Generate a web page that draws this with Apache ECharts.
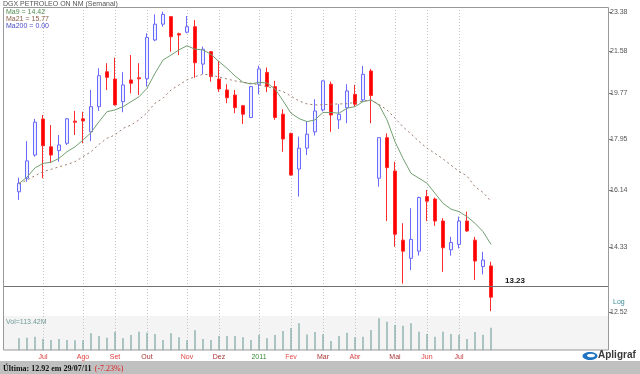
<!DOCTYPE html>
<html><head><meta charset="utf-8">
<script src="https://cdn.jsdelivr.net/npm/echarts@6/dist/echarts.min.js"></script>
<style>html,body{margin:0;padding:0;background:#fff}#c{width:640px;height:374px}</style>
</head><body><div id="c"></div><script>
// ---- data ----
const title = 'DGX PETROLEO ON NM (Semanal)';
const dates = ['11/06/10','18/06/10','25/06/10','02/07/10','09/07/10','16/07/10','23/07/10','30/07/10',
 '06/08/10','13/08/10','20/08/10','27/08/10','03/09/10','10/09/10','17/09/10','24/09/10',
 '01/10/10','08/10/10','15/10/10','22/10/10','29/10/10','05/11/10','12/11/10','19/11/10','26/11/10',
 '03/12/10','10/12/10','17/12/10','24/12/10','31/12/10','07/01/11','14/01/11','21/01/11','28/01/11',
 '04/02/11','11/02/11','18/02/11','25/02/11','04/03/11','11/03/11','18/03/11','25/03/11',
 '01/04/11','08/04/11','15/04/11','22/04/11','29/04/11','06/05/11','13/05/11','20/05/11','27/05/11',
 '03/06/11','10/06/11','17/06/11','24/06/11','01/07/11','08/07/11','15/07/11','22/07/11','29/07/11'];
const open  = [16.09,16.55,17.37,18.72,17.67,17.53,17.80,18.64,18.73,18.23,19.21,20.66,20.35,19.41,20.31,20.40,20.36,22.07,22.81,23.17,
               22.36,22.43,22.69,20.99,21.54,20.35,19.89,19.68,19.25,18.78,20.13,20.63,20.03,18.91,18.17,16.87,17.62,18.23,19.08,20.13,
               18.69,19.17,19.71,19.48,20.69,16.55,18.01,16.80,14.55,14.01,14.22,15.93,15.85,15.14,14.26,14.42,15.14,14.55,13.77,13.79];
const high  = [16.57,17.88,18.73,18.88,18.49,18.11,18.76,19.04,19.01,19.89,20.81,21.03,21.27,20.64,21.39,21.03,22.38,23.28,23.41,23.20,
               22.41,23.20,23.01,21.77,21.57,21.13,20.13,19.89,19.28,20.06,20.92,20.84,20.27,19.11,18.20,18.05,18.62,19.51,20.29,20.24,
               19.31,20.13,20.10,20.91,20.78,18.01,18.17,17.13,15.07,15.55,15.93,16.15,15.90,15.23,14.65,15.28,15.44,14.65,14.20,13.91];
const low   = [15.82,16.43,17.31,16.55,17.08,17.13,17.74,18.11,17.80,17.88,19.04,19.89,19.26,18.99,19.75,19.68,20.03,22.02,22.69,21.54,
               21.39,22.38,20.40,20.56,20.24,19.81,19.35,18.95,18.53,18.76,19.71,19.80,18.69,17.49,16.64,15.93,17.37,18.09,19.02,18.23,
               18.34,18.56,19.21,19.41,18.56,16.26,15.14,14.35,13.29,13.67,14.09,15.14,14.99,13.62,14.09,14.30,14.80,13.39,13.55,12.55];
const close = [16.38,17.16,18.60,17.71,17.37,17.74,18.73,18.60,18.65,19.21,20.49,20.42,19.28,20.10,20.17,20.36,22.19,22.81,23.28,22.22,
               22.30,22.69,21.05,21.65,20.45,19.93,19.57,19.17,18.91,20.03,20.78,20.03,18.78,17.96,16.66,17.62,18.14,19.04,20.27,18.88,
               18.91,19.85,19.31,20.55,19.66,18.01,16.92,14.73,14.22,14.57,15.90,15.78,15.14,14.32,14.48,15.14,14.83,13.93,13.96,12.92];
const ma9   = [16.37,16.59,16.91,17.07,17.11,17.25,17.49,17.67,17.92,18.20,18.62,19.01,19.08,19.21,19.41,19.61,19.96,20.59,21.17,21.39,
               21.62,21.81,21.65,21.62,21.42,21.10,20.81,20.48,20.21,20.14,20.21,20.18,19.93,19.45,18.95,18.74,18.62,18.69,18.98,18.98,
               18.95,19.15,19.21,19.41,19.48,19.28,18.69,17.86,17.25,16.72,16.55,16.38,16.04,15.71,15.52,15.44,15.28,15.07,14.81,14.42];
const ma21  = [16.35,16.49,16.64,16.78,16.86,16.95,17.03,17.13,17.31,17.49,17.76,17.99,18.11,18.36,18.49,18.69,18.97,19.35,19.55,19.89,
               20.10,20.31,20.45,20.55,20.52,20.43,20.35,20.27,20.21,20.17,20.10,20.03,19.93,19.82,19.64,19.44,19.32,19.28,19.29,19.31,
               19.32,19.33,19.38,19.44,19.48,19.30,19.08,18.76,18.42,18.15,17.87,17.62,17.43,17.23,17.01,16.79,16.63,16.26,16.07,15.77];
const ma200Last = 0.00;
const volume = [59.6,62.6,67.7,56.0,50.9,56.0,50.9,49.4,49.4,85.0,71.3,62.6,93.1,59.6,76.4,93.1,88.1,81.4,50.9,85.0,
                64.6,49.4,100.3,56.0,50.9,71.3,71.3,71.3,64.6,50.9,77.9,59.6,76.4,96.7,110.5,135.9,78.9,91.6,79.9,45.8,
                71.3,88.1,64.6,67.7,101.8,161.4,144.0,127.3,123.7,135.9,93.1,81.4,67.7,93.1,81.4,77.9,56.0,91.6,77.9,113.42];
const priceTicks = [23.38,21.58,19.77,17.95,16.14,14.33,12.52];
const monthTickDates = ['02/07/10','06/08/10','03/09/10','01/10/10','05/11/10','03/12/10','07/01/11','04/02/11','04/03/11','01/04/11','06/05/11','03/06/11','01/07/11'];
const monthTicks = ['Jul','Ago','Set','Out','Nov','Dez','2011','Fev','Mar','Abr','Mai','Jun','Jul'];
const refLevel = 13.23;
const lastDate = '29/07/11';
const lastChangePct = -7.23;

// ---- styles ----
const monthColors = ['#e03a3a','#e04545','#e03a3a','#a83232','#e04545','#a83232','#3b8a3b','#e05050','#a83232','#d84040','#a83232','#e04040','#c03434'];
const FF = '"Liberation Sans", Arial, sans-serif';
const LEAD = 2, TRAIL = 14;

const cats = [];
for (let i = 0; i < LEAD; i++) cats.push('lead' + i);
dates.forEach(d => cats.push(d));
for (let i = 0; i < TRAIL; i++) cats.push('trail' + i);
const lead = v => Array(LEAD).fill(v);
const candleData = lead(['-','-','-','-']).concat(dates.map((d, i) => [open[i], close[i], low[i], high[i]]));
const ma9Data = lead('-').concat(ma9);
const ma21Data = lead('-').concat(ma21);
const volData = lead('-').concat(volume);
const isMonth = v => monthTickDates.indexOf(v) >= 0;
const last = arr => arr[arr.length - 1];

const chart = echarts.init(document.getElementById('c'), null, {renderer: 'canvas'});
const splitLine = {show: true, interval: (i, v) => isMonth(v), lineStyle: {color: '#c4c4c4', type: [1, 2], width: 1}};
chart.setOption({
  animation: false,
  backgroundColor: '#fff',
  grid: [
    {left: 3, top: 7, width: 600, height: 309, show: false},
    {left: 3, top: 316, width: 600, height: 34, show: false}
  ],
  xAxis: [
    {type: 'category', gridIndex: 0, data: cats, boundaryGap: false,
     axisLine: {show: false}, axisTick: {show: false}, axisLabel: {show: false}, splitLine: splitLine},
    {type: 'category', gridIndex: 1, data: cats, boundaryGap: false,
     axisLine: {show: false}, axisTick: {show: false}, splitLine: splitLine,
     axisLabel: {show: true, interval: (i, v) => isMonth(v), margin: 4,
       formatter: v => isMonth(v) ? monthTicks[monthTickDates.indexOf(v)] : '',
       color: (v) => monthColors[Math.max(0, monthTickDates.indexOf(v))],
       fontSize: 7, fontFamily: FF}}
  ],
  yAxis: [
    {type: 'log', logBase: 10, gridIndex: 0, min: 12.424, max: 23.64, position: 'right', offset: 6,
     axisLine: {show: false},
     axisTick: {show: true, length: 3, customValues: priceTicks, lineStyle: {color: '#777'}},
     axisLabel: {show: true, customValues: priceTicks, formatter: v => Number(v).toFixed(2),
       fontSize: 7, color: '#555', margin: 1, fontFamily: FF},
     splitLine: {show: false}},
    {type: 'value', gridIndex: 1, min: 0, max: 173, show: false}
  ],
  series: [
    {type: 'candlestick', xAxisIndex: 0, yAxisIndex: 0, data: candleData, barWidth: 4,
     itemStyle: {color: '#eef0ff', color0: '#ff0000', borderColor: '#6a6aff', borderColor0: '#ff2a2a', borderWidth: 1},
     markLine: {silent: true, symbol: 'none', animation: false,
       lineStyle: {color: '#707070', width: 1, type: 'solid'}, label: {show: false},
       data: [[{x: 3, yAxis: refLevel}, {x: 609, yAxis: refLevel}]]},
     markPoint: {silent: true, symbol: 'circle', symbolSize: 0, animation: false,
       data: [{coord: ['trail2', refLevel], value: refLevel}],
       label: {show: true, position: 'top', distance: 1, formatter: () => refLevel.toFixed(2),
         fontSize: 8, fontWeight: 'bold', color: '#111', fontFamily: FF}}},
    {type: 'line', xAxisIndex: 0, yAxisIndex: 0, data: ma9Data, showSymbol: false, silent: true,
     lineStyle: {color: '#72a072', width: 1}},
    {type: 'line', xAxisIndex: 0, yAxisIndex: 0, data: ma21Data, showSymbol: false, silent: true,
     lineStyle: {color: '#9c7c6c', width: 1, type: [2, 3]}},
    {type: 'bar', xAxisIndex: 1, yAxisIndex: 1, data: volData, barWidth: 1, silent: true,
     itemStyle: {color: '#5f948f'}}
  ],
  graphic: [
    {type: 'rect', z: -5, silent: true, shape: {x: 3, y: 316, width: 606, height: 34}, style: {fill: '#f4f4f4'}},
    {type: 'rect', z: 50, silent: true, shape: {x: 3.5, y: 7.5, width: 605, height: 342.5}, style: {fill: null, stroke: '#999', lineWidth: 1}},
    {type: 'text', z: 50, x: 3, y: 1, style: {text: title, fill: '#555', font: '7px ' + FF}},
    {type: 'text', z: 50, x: 6, y: 9, style: {text: 'Ma9 = ' + last(ma9).toFixed(2), fill: '#4f8a4f', font: '7px ' + FF}},
    {type: 'text', z: 50, x: 6, y: 16, style: {text: 'Ma21 = ' + last(ma21).toFixed(2), fill: '#8a5f48', font: '7px ' + FF}},
    {type: 'text', z: 50, x: 6, y: 23, style: {text: 'Ma200 = ' + ma200Last.toFixed(2), fill: '#4b4bc8', font: '7px ' + FF}},
    {type: 'text', z: 50, x: 6, y: 319, style: {text: 'Vol=' + last(volume).toFixed(2) + 'M', fill: '#6e9a98', font: '7px ' + FF}},
    {type: 'text', z: 50, x: 613, y: 299, style: {text: 'Log', fill: '#3c8a96', font: '7px ' + FF}},
    {type: 'rect', z: 50, silent: true, shape: {x: 0, y: 361, width: 640, height: 13}, style: {fill: '#c0c0c0'}},
    {type: 'text', z: 51, x: 3, y: 363, style: {
      text: '{b|Última: ' + last(close).toFixed(2) + ' em ' + lastDate + '} {r|(' + lastChangePct.toFixed(2) + '%)}',
      rich: {b: {font: 'bold 8px "Liberation Serif", serif', fill: '#111'}, r: {font: '8px "Liberation Serif", serif', fill: '#e02020'}}}},
    {type: 'ellipse', z: 50, shape: {cx: 590, cy: 356, rx: 7.5, ry: 4}, style: {fill: '#1f74c2'}},
    {type: 'ellipse', z: 51, shape: {cx: 591, cy: 355.5, rx: 4, ry: 1.8}, style: {fill: '#fff'}},
    {type: 'text', z: 51, x: 598, y: 350, style: {text: 'Apligraf', fill: '#3a3a3a', font: 'bold 10px ' + FF}}
  ]
});
</script></body></html>
